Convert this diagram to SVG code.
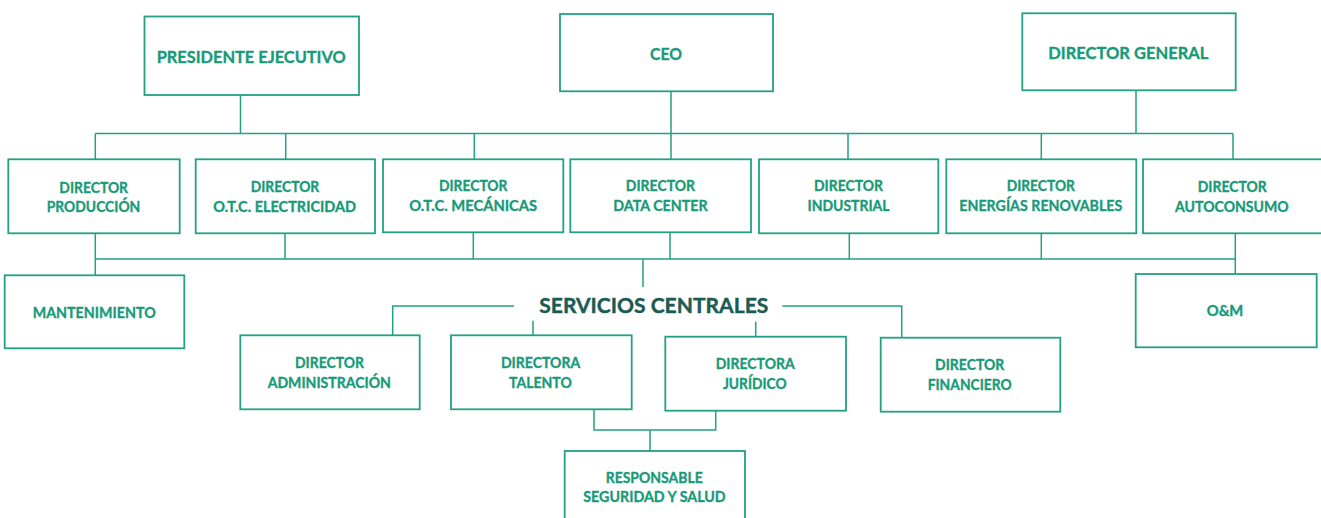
<svg xmlns="http://www.w3.org/2000/svg" width="1321" height="518" viewBox="0 0 1321 518">
<style>
.box{fill:#ffffff;stroke:#22a184;stroke-width:1.8}
.ln{fill:none;stroke:#22a184;stroke-width:1.5}
.t{font-family:Lato,"Liberation Sans",Arial,sans-serif;font-weight:bold;fill:#179a78;stroke:#179a78;stroke-width:0.35;text-anchor:middle}
.s{font-size:15.3px}
.m{font-size:17px}
.big{font-family:Lato,"Liberation Sans",Arial,sans-serif;font-weight:bold;fill:#1b5b52;stroke:#1b5b52;stroke-width:0.4;font-size:20.5px;text-anchor:middle}
</style>
<rect width="1321" height="518" fill="#ffffff"/>
<g id="connectors">
<path class="ln" d="M240.5 95V133.5M671 91V159M1136 90V133.5M95.3 133.5H1233M95.3 133.5V159M285.7 133.5V159M474.3 133.5V159M848 133.5V159M1041.3 133.5V159M1233 133.5V159"/>
<path class="ln" d="M95.3 233V259M285 233V259M473.3 233V259M670 233V259M849.3 233V259M1041.3 233V259M1235.3 233V259M95.3 259H1235.3M95.3 259V275M1235.3 259V274M643 259V287"/>
<path class="ln" d="M392.7 335V306H514M782.3 306H901.7V337M533 320.7V335M755.7 321.7V336.5"/>
<path class="ln" d="M594 409V430H715.7V410.5M650 430V451"/>
</g>
<g id="presidente"><rect class="box" x="144.5" y="16.5" width="214.5" height="78.5"/><text class="t m" x="251.2" y="63.3" textLength="189" lengthAdjust="spacingAndGlyphs">PRESIDENTE EJECUTIVO</text></g>
<g id="ceo"><rect class="box" x="560" y="14" width="213" height="77.3"/><text class="t m" x="666" y="60" textLength="32" lengthAdjust="spacingAndGlyphs">CEO</text></g>
<g id="director-general"><rect class="box" x="1022.3" y="13.3" width="213.4" height="77"/><text class="t m" x="1128.3" y="58.7" textLength="160" lengthAdjust="spacingAndGlyphs">DIRECTOR GENERAL</text></g>
<g id="produccion"><rect class="box" x="8.3" y="159.3" width="171.4" height="74"/><text class="t s" x="93.7" y="192.5" textLength="68.7" lengthAdjust="spacingAndGlyphs">DIRECTOR</text><text class="t s" x="93.5" y="212.3" textLength="93.6" lengthAdjust="spacingAndGlyphs">PRODUCCIÓN</text></g>
<g id="otc-electricidad"><rect class="box" x="195.7" y="159.3" width="179.3" height="74"/><text class="t s" x="285" y="191.5" textLength="68.6" lengthAdjust="spacingAndGlyphs">DIRECTOR</text><text class="t s" x="284.7" y="211.7" textLength="142.7" lengthAdjust="spacingAndGlyphs">O.T.C. ELECTRICIDAD</text></g>
<g id="otc-mecanicas"><rect class="box" x="383" y="159.3" width="180.3" height="73"/><text class="t s" x="473.2" y="191" textLength="68.6" lengthAdjust="spacingAndGlyphs">DIRECTOR</text><text class="t s" x="473.2" y="211" textLength="128" lengthAdjust="spacingAndGlyphs">O.T.C. MECÁNICAS</text></g>
<g id="data-center"><rect class="box" x="570.3" y="159.3" width="180.7" height="73"/><text class="t s" x="660.4" y="191" textLength="69.3" lengthAdjust="spacingAndGlyphs">DIRECTOR</text><text class="t s" x="660.5" y="211" textLength="94.4" lengthAdjust="spacingAndGlyphs">DATA CENTER</text></g>
<g id="industrial"><rect class="box" x="759" y="159.3" width="179.3" height="74"/><text class="t s" x="848.5" y="191" textLength="69" lengthAdjust="spacingAndGlyphs">DIRECTOR</text><text class="t s" x="848.5" y="211" textLength="82" lengthAdjust="spacingAndGlyphs">INDUSTRIAL</text></g>
<g id="energias"><rect class="box" x="946.3" y="159.3" width="190" height="74"/><text class="t s" x="1040.8" y="191" textLength="68.3" lengthAdjust="spacingAndGlyphs">DIRECTOR</text><text class="t s" x="1040.8" y="211" textLength="163" lengthAdjust="spacingAndGlyphs">ENERGÍAS RENOVABLES</text></g>
<g id="autoconsumo"><rect class="box" x="1143" y="159.3" width="180" height="74"/><text class="t s" x="1232.2" y="192.3" textLength="69" lengthAdjust="spacingAndGlyphs">DIRECTOR</text><text class="t s" x="1231.9" y="212.3" textLength="113.7" lengthAdjust="spacingAndGlyphs">AUTOCONSUMO</text></g>
<g id="mantenimiento"><rect class="box" x="4.7" y="275.3" width="179.6" height="73"/><text class="t s" x="94.2" y="317.7" textLength="123" lengthAdjust="spacingAndGlyphs">MANTENIMIENTO</text></g>
<g id="om"><rect class="box" x="1135.7" y="274" width="181" height="73.3"/><text class="t s" x="1225" y="316.3" textLength="36.6" lengthAdjust="spacingAndGlyphs">O&amp;M</text></g>
<g id="servicios-centrales"><text class="big" x="653.8" y="312.7" textLength="229" lengthAdjust="spacingAndGlyphs">SERVICIOS CENTRALES</text></g>
<g id="administracion"><rect class="box" x="240.3" y="335.3" width="179.4" height="74"/><text class="t s" x="329.5" y="368" textLength="69" lengthAdjust="spacingAndGlyphs">DIRECTOR</text><text class="t s" x="329.3" y="387.7" textLength="123.3" lengthAdjust="spacingAndGlyphs">ADMINISTRACIÓN</text></g>
<g id="talento"><rect class="box" x="451" y="335.3" width="180.7" height="74"/><text class="t s" x="540.6" y="368" textLength="79.3" lengthAdjust="spacingAndGlyphs">DIRECTORA</text><text class="t s" x="540.4" y="387.7" textLength="62.7" lengthAdjust="spacingAndGlyphs">TALENTO</text></g>
<g id="juridico"><rect class="box" x="665.3" y="336.7" width="180.7" height="74"/><text class="t s" x="755.2" y="369.3" textLength="79" lengthAdjust="spacingAndGlyphs">DIRECTORA</text><text class="t s" x="754.8" y="389" textLength="63.7" lengthAdjust="spacingAndGlyphs">JURÍDICO</text></g>
<g id="financiero"><rect class="box" x="880.7" y="337.7" width="179.6" height="74"/><text class="t s" x="969.7" y="370.3" textLength="69.3" lengthAdjust="spacingAndGlyphs">DIRECTOR</text><text class="t s" x="969.7" y="390" textLength="84" lengthAdjust="spacingAndGlyphs">FINANCIERO</text></g>
<g id="seguridad-salud"><rect class="box" x="564.7" y="451" width="180.3" height="80"/><text class="t s" x="654.2" y="482.7" textLength="97" lengthAdjust="spacingAndGlyphs">RESPONSABLE</text><text class="t s" x="654.5" y="502.3" textLength="142.4" lengthAdjust="spacingAndGlyphs">SEGURIDAD Y SALUD</text></g>
</svg>
